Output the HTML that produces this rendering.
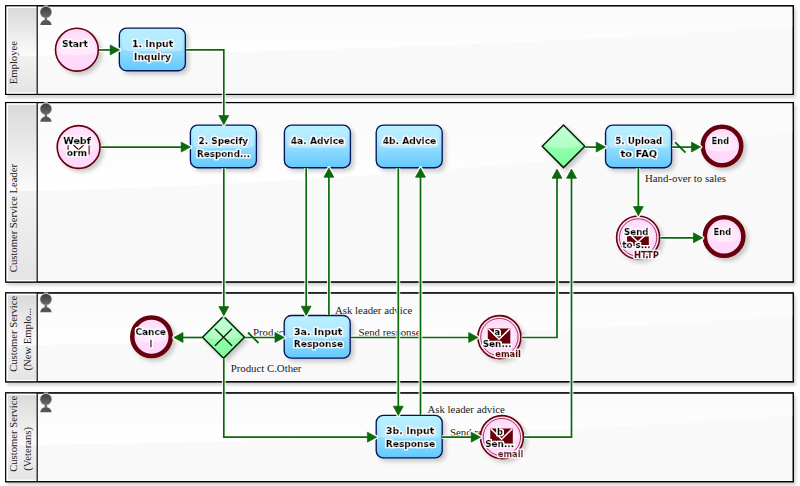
<!DOCTYPE html>
<html><head><meta charset="utf-8"><title>Inquiry workflow</title>
<style>
html,body{margin:0;padding:0;background:#fff;}
body{width:800px;height:486px;overflow:hidden;}
svg{display:block;}
text{white-space:pre;}
.lane{font-family:"Liberation Serif",serif;font-size:10.65px;fill:#222;}
.fl{font-family:"Liberation Serif",serif;font-size:10.8px;fill:#1a1a22;}
.lbl,.sub{font-family:"DejaVu Sans","Liberation Sans",sans-serif;font-weight:bold;font-size:8.3px;fill:#000;stroke:#000;stroke-width:0.35px;filter:url(#halo);}
.sub{fill:#680008;stroke:#680008;}
</style></head><body>
<svg width="800" height="486" viewBox="0 0 800 486">
<defs>
<linearGradient id="hdrA" x1="0" y1="0" x2="0" y2="1"><stop offset="0" stop-color="#dadada"/><stop offset="1" stop-color="#fbfbfb"/></linearGradient>
<linearGradient id="hdrB" x1="0" y1="0" x2="0" y2="1"><stop offset="0" stop-color="#f1f1f1"/><stop offset="1" stop-color="#e4e4e4"/></linearGradient>
<linearGradient id="hdr2" x1="0" y1="0" x2="1" y2="0"><stop offset="0" stop-color="#000" stop-opacity="0.05"/><stop offset="0.3" stop-color="#000" stop-opacity="0"/><stop offset="1" stop-color="#000" stop-opacity="0"/></linearGradient>
<filter id="halo" x="-20%" y="-40%" width="140%" height="180%"><feMorphology in="SourceAlpha" operator="dilate" radius="1"/><feGaussianBlur stdDeviation="0.6"/><feComponentTransfer><feFuncA type="linear" slope="1.6"/></feComponentTransfer><feComposite in2="SourceAlpha" operator="over" result="a"/><feFlood flood-color="#fff"/><feComposite in2="a" operator="in"/><feMerge><feMergeNode/><feMergeNode in="SourceGraphic"/></feMerge></filter>
<filter id="lsh" x="-5%" y="-20%" width="110%" height="140%"><feGaussianBlur in="SourceAlpha" stdDeviation="1.5"/><feOffset dx="2" dy="2.5"/><feComponentTransfer><feFuncA type="linear" slope="0.18"/></feComponentTransfer><feMerge><feMergeNode/><feMergeNode in="SourceGraphic"/></feMerge></filter>
<linearGradient id="gloss" x1="0" y1="0" x2="0" y2="1"><stop offset="0" stop-color="#fff" stop-opacity="0.1"/><stop offset="1" stop-color="#fff" stop-opacity="1"/></linearGradient>
<linearGradient id="taskBg" x1="0" y1="0" x2="0" y2="1"><stop offset="0" stop-color="#b8f2ff"/><stop offset="0.5" stop-color="#96defe"/><stop offset="1" stop-color="#62c8fc"/></linearGradient>
<linearGradient id="tgloss" x1="0" y1="0" x2="0" y2="1"><stop offset="0" stop-color="#fff" stop-opacity="0.05"/><stop offset="1" stop-color="#fff" stop-opacity="0.35"/></linearGradient>
<linearGradient id="egloss" x1="0" y1="0" x2="0" y2="1"><stop offset="0" stop-color="#fff" stop-opacity="0.15"/><stop offset="1" stop-color="#fff" stop-opacity="0.5"/></linearGradient>
<linearGradient id="gwBg" x1="0" y1="0" x2="0" y2="1"><stop offset="0" stop-color="#b0ffc6"/><stop offset="1" stop-color="#78fd98"/></linearGradient>
<linearGradient id="ico" x1="0" y1="0" x2="0" y2="1"><stop offset="0" stop-color="#3c3c3c"/><stop offset="1" stop-color="#6a6a6a"/></linearGradient>
<filter id="sh" x="-20%" y="-20%" width="150%" height="150%"><feGaussianBlur in="SourceAlpha" stdDeviation="2"/><feOffset dx="2.5" dy="2.5"/><feComponentTransfer><feFuncA type="linear" slope="0.2"/></feComponentTransfer><feMerge><feMergeNode/><feMergeNode in="SourceGraphic"/></feMerge></filter>
</defs>
<rect width="800" height="486" fill="#fff"/>
<g><rect x="5.7" y="5.78" width="787.60" height="88.62" fill="#f9f9f9" stroke="#000" stroke-width="1.15" filter="url(#lsh)"/><path d="M37.2 5.78 H793.3 V26.5 Q470 49.6 37.2 55.8 Z" fill="url(#gloss)"/><rect x="5.7" y="5.78" width="31.500000000000004" height="88.62" fill="#fff"/><rect x="8" y="8.08" width="29.200000000000003" height="47.70" fill="url(#hdrA)"/><rect x="8" y="55.78" width="29.200000000000003" height="36.62" fill="url(#hdrB)"/><line x1="38.2" y1="93.10" x2="792.3" y2="93.10" stroke="#fff" stroke-width="1.2"/><rect x="5.7" y="5.78" width="787.60" height="88.62" fill="none" stroke="#000" stroke-width="1.15"/><line x1="37.2" y1="5.78" x2="37.2" y2="94.4" stroke="#000" stroke-width="1.15"/><g transform="translate(40,5.28)"><rect x="3.8" y="0" width="4.4" height="2" fill="#aaa"/><ellipse cx="5.9" cy="6.9" rx="5.8" ry="5.7" fill="url(#ico)" stroke="#bbb" stroke-width="0.5"/><path d="M4.8 12.2 H7 L7.3 15 H4.5 Z" fill="#6a6a6a"/><path d="M0.2 19.7 Q1 14.7 5.9 14.7 Q10.8 14.7 11.6 19.7 Z" fill="#555"/></g><text class="lane" transform="translate(17.3,84.2) rotate(-90)">Employee</text></g>
<g><rect x="5.7" y="102.55" width="787.60" height="179.45" fill="#f9f9f9" stroke="#000" stroke-width="1.15" filter="url(#lsh)"/><path d="M37.2 102.55 H793.3 V131.8 Q470 178.5 37.2 191.1 Z" fill="url(#gloss)"/><rect x="5.7" y="102.55" width="31.500000000000004" height="179.45" fill="#fff"/><rect x="8" y="104.85" width="29.200000000000003" height="86.20" fill="url(#hdrA)"/><rect x="8" y="191.05" width="29.200000000000003" height="88.95" fill="url(#hdrB)"/><line x1="38.2" y1="280.70" x2="792.3" y2="280.70" stroke="#fff" stroke-width="1.2"/><rect x="5.7" y="102.55" width="787.60" height="179.45" fill="none" stroke="#000" stroke-width="1.15"/><line x1="37.2" y1="102.55" x2="37.2" y2="282.0" stroke="#000" stroke-width="1.15"/><g transform="translate(40,102.05)"><rect x="3.8" y="0" width="4.4" height="2" fill="#aaa"/><ellipse cx="5.9" cy="6.9" rx="5.8" ry="5.7" fill="url(#ico)" stroke="#bbb" stroke-width="0.5"/><path d="M4.8 12.2 H7 L7.3 15 H4.5 Z" fill="#6a6a6a"/><path d="M0.2 19.7 Q1 14.7 5.9 14.7 Q10.8 14.7 11.6 19.7 Z" fill="#555"/></g><text class="lane" transform="translate(17.3,272.2) rotate(-90)">Customer Service Leader</text></g>
<g><rect x="5.7" y="292.95" width="787.60" height="88.85" fill="#f9f9f9" stroke="#000" stroke-width="1.15" filter="url(#lsh)"/><path d="M37.2 292.95 H793.3 V315.6 Q470 338.7 37.2 344.9 Z" fill="url(#gloss)"/><rect x="5.7" y="292.95" width="31.500000000000004" height="88.85" fill="#fff"/><rect x="8" y="295.25" width="29.200000000000003" height="49.70" fill="url(#hdrA)"/><rect x="8" y="344.95" width="29.200000000000003" height="34.85" fill="url(#hdrB)"/><line x1="38.2" y1="380.50" x2="792.3" y2="380.50" stroke="#fff" stroke-width="1.2"/><rect x="5.7" y="292.95" width="787.60" height="88.85" fill="none" stroke="#000" stroke-width="1.15"/><line x1="37.2" y1="292.95" x2="37.2" y2="381.8" stroke="#000" stroke-width="1.15"/><g transform="translate(40,292.45)"><rect x="3.8" y="0" width="4.4" height="2" fill="#aaa"/><ellipse cx="5.9" cy="6.9" rx="5.8" ry="5.7" fill="url(#ico)" stroke="#bbb" stroke-width="0.5"/><path d="M4.8 12.2 H7 L7.3 15 H4.5 Z" fill="#6a6a6a"/><path d="M0.2 19.7 Q1 14.7 5.9 14.7 Q10.8 14.7 11.6 19.7 Z" fill="#555"/></g><text class="lane" transform="translate(17.3,371.8) rotate(-90)">Customer Service</text><text class="lane" transform="translate(31.1,370.5) rotate(-90)">(New Emplo...</text></g>
<g><rect x="5.7" y="392.95" width="787.60" height="88.72" fill="#f9f9f9" stroke="#000" stroke-width="1.15" filter="url(#lsh)"/><path d="M37.2 392.95 H793.3 V415.7 Q470 438.7 37.2 444.9 Z" fill="url(#gloss)"/><rect x="5.7" y="392.95" width="31.500000000000004" height="88.72" fill="#fff"/><rect x="8" y="395.25" width="29.200000000000003" height="49.70" fill="url(#hdrA)"/><rect x="8" y="444.95" width="29.200000000000003" height="34.72" fill="url(#hdrB)"/><line x1="38.2" y1="480.37" x2="792.3" y2="480.37" stroke="#fff" stroke-width="1.2"/><rect x="5.7" y="392.95" width="787.60" height="88.72" fill="none" stroke="#000" stroke-width="1.15"/><line x1="37.2" y1="392.95" x2="37.2" y2="481.67" stroke="#000" stroke-width="1.15"/><g transform="translate(40,392.45)"><rect x="3.8" y="0" width="4.4" height="2" fill="#aaa"/><ellipse cx="5.9" cy="6.9" rx="5.8" ry="5.7" fill="url(#ico)" stroke="#bbb" stroke-width="0.5"/><path d="M4.8 12.2 H7 L7.3 15 H4.5 Z" fill="#6a6a6a"/><path d="M0.2 19.7 Q1 14.7 5.9 14.7 Q10.8 14.7 11.6 19.7 Z" fill="#555"/></g><text class="lane" transform="translate(17.3,471.8) rotate(-90)">Customer Service</text><text class="lane" transform="translate(31.1,470.8) rotate(-90)">(Veterans)</text></g>
<text class="fl" x="645" y="182">Hand-over to sales</text>
<text class="fl" x="335.0" y="313.6">Ask leader advice</text>
<text class="fl" x="253" y="335.8">Product</text>
<text class="fl" x="358.4" y="335.9">Send response</text>
<text class="fl" x="230.7" y="372.3">Product C.Other</text>
<text class="fl" x="427.5" y="413.3">Ask leader advice</text>
<text class="fl" x="450" y="435.6">Send response</text>
<g><circle cx="76.9" cy="49.7" r="21.4" fill="#ffd9fb" stroke="#680008" stroke-width="1.6" filter="url(#sh)"/><path d="M58.10 50.7 A18.80 18.80 0 0 1 95.70 50.7 Q94.20 55.2 76.9 55.2 Q59.60 55.2 58.10 50.7 Z" fill="url(#egloss)"/></g>
<text class="lbl" x="61.9" y="46.9" textLength="26" lengthAdjust="spacingAndGlyphs">Start</text>
<g><rect x="119.35" y="28.15" width="66.0" height="42.6" rx="7.2" ry="7.2" fill="url(#taskBg)" stroke="#06145a" stroke-width="1.35" filter="url(#sh)"/><path d="M122.35 48.172 V37.15 Q122.35 31.15 128.35 31.15 H176.35 Q182.35 31.15 182.35 37.15 V48.172 Q181.35 51.172 173.35 51.172 H131.35 Q123.35 51.172 122.35 48.172 Z" fill="url(#tgloss)"/></g>
<text class="lbl" x="131.9" y="46.7" textLength="41.4" lengthAdjust="spacingAndGlyphs">1. Input</text>
<text class="lbl" x="134.1" y="59.6" textLength="37" lengthAdjust="spacingAndGlyphs">Inquiry</text>
<g><circle cx="78.6" cy="147.0" r="21.4" fill="#ffd9fb" stroke="#680008" stroke-width="1.6" filter="url(#sh)"/><path d="M59.80 148.0 A18.80 18.80 0 0 1 97.40 148.0 Q95.90 152.5 78.6 152.5 Q61.30 152.5 59.80 148.0 Z" fill="url(#egloss)"/></g>
<g><rect x="68.1" y="145" width="21" height="9.6" fill="#fff"/><path d="M68.1 145 V154.6 M89.1 145 V154.6" fill="none" stroke="#680008" stroke-width="1.1"/><path d="M73.39999999999999 145 L78.6 149.8 L83.8 145" fill="none" stroke="#680008" stroke-width="1.2"/></g>
<text class="lbl" x="63.2" y="143.6" textLength="27.7" lengthAdjust="spacingAndGlyphs">Webf</text>
<text class="lbl" x="66.7" y="156.4" textLength="20.4" lengthAdjust="spacingAndGlyphs">orm</text>
<g><rect x="190.4" y="125.1" width="66.0" height="42.6" rx="7.2" ry="7.2" fill="url(#taskBg)" stroke="#06145a" stroke-width="1.35" filter="url(#sh)"/><path d="M193.4 145.12199999999999 V134.1 Q193.4 128.1 199.4 128.1 H247.39999999999998 Q253.39999999999998 128.1 253.39999999999998 134.1 V145.12199999999999 Q252.39999999999998 148.12199999999999 244.39999999999998 148.12199999999999 H202.4 Q194.4 148.12199999999999 193.4 145.12199999999999 Z" fill="url(#tgloss)"/></g>
<text class="lbl" x="198.6" y="143.7" textLength="49.5" lengthAdjust="spacingAndGlyphs">2. Specify</text>
<text class="lbl" x="197" y="156.6" textLength="53" lengthAdjust="spacingAndGlyphs">Respond...</text>
<g><rect x="284.4" y="125.1" width="66.0" height="42.6" rx="7.2" ry="7.2" fill="url(#taskBg)" stroke="#06145a" stroke-width="1.35" filter="url(#sh)"/><path d="M287.4 145.12199999999999 V134.1 Q287.4 128.1 293.4 128.1 H341.4 Q347.4 128.1 347.4 134.1 V145.12199999999999 Q346.4 148.12199999999999 338.4 148.12199999999999 H296.4 Q288.4 148.12199999999999 287.4 145.12199999999999 Z" fill="url(#tgloss)"/></g>
<text class="lbl" x="290.7" y="143.7" textLength="53.6" lengthAdjust="spacingAndGlyphs">4a. Advice</text>
<g><rect x="376.2" y="125.1" width="66.0" height="42.6" rx="7.2" ry="7.2" fill="url(#taskBg)" stroke="#06145a" stroke-width="1.35" filter="url(#sh)"/><path d="M379.2 145.12199999999999 V134.1 Q379.2 128.1 385.2 128.1 H433.2 Q439.2 128.1 439.2 134.1 V145.12199999999999 Q438.2 148.12199999999999 430.2 148.12199999999999 H388.2 Q380.2 148.12199999999999 379.2 145.12199999999999 Z" fill="url(#tgloss)"/></g>
<text class="lbl" x="382.7" y="143.7" textLength="53.6" lengthAdjust="spacingAndGlyphs">4b. Advice</text>
<g><path d="M563.5 125.00000000000001 L584.8 146.3 L563.5 167.60000000000002 L542.2 146.3 Z" fill="url(#gwBg)" stroke="#062806" stroke-width="1.6" stroke-linejoin="round" filter="url(#sh)"/><path d="M563.5 127.50000000000001 L581.8 145.8 Q563.5 151.3 545.2 145.8 Z" fill="#fff" opacity="0.28"/></g>
<g><rect x="605.55" y="125.1" width="66.0" height="42.6" rx="7.2" ry="7.2" fill="url(#taskBg)" stroke="#06145a" stroke-width="1.35" filter="url(#sh)"/><path d="M608.55 145.12199999999999 V134.1 Q608.55 128.1 614.55 128.1 H662.55 Q668.55 128.1 668.55 134.1 V145.12199999999999 Q667.55 148.12199999999999 659.55 148.12199999999999 H617.55 Q609.55 148.12199999999999 608.55 145.12199999999999 Z" fill="url(#tgloss)"/></g>
<text class="lbl" x="615.2" y="143.7" textLength="47" lengthAdjust="spacingAndGlyphs">5. Upload</text>
<text class="lbl" x="620.6" y="156.6" textLength="36.6" lengthAdjust="spacingAndGlyphs">to FAQ</text>
<g><circle cx="722.0" cy="146.0" r="19.25" fill="#ffd9fb" stroke="#680008" stroke-width="4.5" filter="url(#sh)"/><path d="M706.80 147.0 A15.20 15.20 0 0 1 737.20 147.0 Q735.70 151.5 722.0 151.5 Q708.30 151.5 706.80 147.0 Z" fill="url(#egloss)"/></g>
<text class="lbl" x="711.6" y="143.75" textLength="17.5" lengthAdjust="spacingAndGlyphs">End</text>
<g><circle cx="638.1" cy="237.5" r="21.5" fill="#ffd9fb" stroke="#680008" stroke-width="1.6" filter="url(#sh)"/><circle cx="638.1" cy="237.5" r="18.7" fill="none" stroke="#8a3048" stroke-width="0.9"/><path d="M621.90 238.5 A16.20 16.20 0 0 1 654.30 238.5 Q652.80 243.0 638.1 243.0 Q623.40 243.0 621.90 238.5 Z" fill="url(#egloss)"/></g>
<g><rect x="627.1" y="232" width="21.7" height="14" fill="#680008"/><path d="M627.6 232.3 L637.95 242.08 L648.3000000000001 232.3" fill="none" stroke="#fff" stroke-width="1.5"/></g>
<text class="lbl" x="624.1" y="235.1" textLength="24.4" lengthAdjust="spacingAndGlyphs">Send</text>
<text class="lbl" x="622.25" y="247.5" textLength="28.4" lengthAdjust="spacingAndGlyphs">to s...</text>
<text class="sub" x="634" y="258.1" textLength="25" lengthAdjust="spacingAndGlyphs">HTTP</text>
<g><circle cx="724.1" cy="236.5" r="19.25" fill="#ffd9fb" stroke="#680008" stroke-width="4.5" filter="url(#sh)"/><path d="M708.90 237.5 A15.20 15.20 0 0 1 739.30 237.5 Q737.80 242.0 724.1 242.0 Q710.40 242.0 708.90 237.5 Z" fill="url(#egloss)"/></g>
<text class="lbl" x="713.6" y="234.8" textLength="17.6" lengthAdjust="spacingAndGlyphs">End</text>
<g><circle cx="151.5" cy="336.7" r="19.25" fill="#ffd9fb" stroke="#680008" stroke-width="4.5" filter="url(#sh)"/><path d="M136.30 337.7 A15.20 15.20 0 0 1 166.70 337.7 Q165.20 342.2 151.5 342.2 Q137.80 342.2 136.30 337.7 Z" fill="url(#egloss)"/></g>
<text class="lbl" x="135.4" y="334.5" textLength="30.5" lengthAdjust="spacingAndGlyphs">Cance</text>
<text class="lbl" x="149.6" y="347.3">l</text>
<g><path d="M223.5 316.2 L244.5 337.2 L223.5 358.2 L202.5 337.2 Z" fill="url(#gwBg)" stroke="#062806" stroke-width="1.6" stroke-linejoin="round" filter="url(#sh)"/><path d="M223.5 318.7 L241.5 336.7 Q223.5 342.2 205.5 336.7 Z" fill="#fff" opacity="0.28"/></g>
<g><rect x="284.2" y="315.5" width="66.0" height="42.6" rx="7.2" ry="7.2" fill="url(#taskBg)" stroke="#06145a" stroke-width="1.35" filter="url(#sh)"/><path d="M287.2 335.522 V324.5 Q287.2 318.5 293.2 318.5 H341.2 Q347.2 318.5 347.2 324.5 V335.522 Q346.2 338.522 338.2 338.522 H296.2 Q288.2 338.522 287.2 335.522 Z" fill="url(#tgloss)"/></g>
<text class="lbl" x="294.0" y="334.6" textLength="48.3" lengthAdjust="spacingAndGlyphs">3a. Input</text>
<text class="lbl" x="293.7" y="347.1" textLength="49.5" lengthAdjust="spacingAndGlyphs">Response</text>
<g><circle cx="499.4" cy="337.1" r="21.5" fill="#ffd9fb" stroke="#680008" stroke-width="1.6" filter="url(#sh)"/><circle cx="499.4" cy="337.1" r="18.7" fill="none" stroke="#8a3048" stroke-width="0.9"/><path d="M483.20 338.1 A16.20 16.20 0 0 1 515.60 338.1 Q514.10 342.6 499.4 342.6 Q484.70 342.6 483.20 338.1 Z" fill="url(#egloss)"/></g>
<g><rect x="487.8" y="328.5" width="22.5" height="15" fill="#680008"/><path d="M488.3 328.8 L499.05 339.3 L509.8 328.8" fill="none" stroke="#fff" stroke-width="1.5"/></g>
<text class="lbl" x="494.4" y="335.2">a</text>
<text class="lbl" x="482.75" y="347.0" textLength="28.75" lengthAdjust="spacingAndGlyphs">Sen...</text>
<text class="sub" x="495.25" y="357.0" textLength="25.6" lengthAdjust="spacingAndGlyphs">email</text>
<g><rect x="376.2" y="415.3" width="66.0" height="42.6" rx="7.2" ry="7.2" fill="url(#taskBg)" stroke="#06145a" stroke-width="1.35" filter="url(#sh)"/><path d="M379.2 435.322 V424.3 Q379.2 418.3 385.2 418.3 H433.2 Q439.2 418.3 439.2 424.3 V435.322 Q438.2 438.322 430.2 438.322 H388.2 Q380.2 438.322 379.2 435.322 Z" fill="url(#tgloss)"/></g>
<text class="lbl" x="386.0" y="434.4" textLength="48.3" lengthAdjust="spacingAndGlyphs">3b. Input</text>
<text class="lbl" x="385.7" y="446.9" textLength="49.5" lengthAdjust="spacingAndGlyphs">Response</text>
<g><circle cx="501.9" cy="437.1" r="21.5" fill="#ffd9fb" stroke="#680008" stroke-width="1.6" filter="url(#sh)"/><circle cx="501.9" cy="437.1" r="18.7" fill="none" stroke="#8a3048" stroke-width="0.9"/><path d="M485.70 438.1 A16.20 16.20 0 0 1 518.10 438.1 Q516.60 442.6 501.9 442.6 Q487.20 442.6 485.70 438.1 Z" fill="url(#egloss)"/></g>
<g><rect x="490.3" y="428.5" width="22.5" height="15" fill="#680008"/><path d="M490.8 428.8 L501.55 439.3 L512.3 428.8" fill="none" stroke="#fff" stroke-width="1.5"/></g>
<text class="lbl" x="496.9" y="435.2">b</text>
<text class="lbl" x="485.25" y="447.0" textLength="28.75" lengthAdjust="spacingAndGlyphs">Sen...</text>
<text class="sub" x="497.75" y="457.0" textLength="25.6" lengthAdjust="spacingAndGlyphs">email</text>
<g><path d="M99 49.95 L115.0 49.95" fill="none" stroke="#fff" stroke-opacity="0.9" stroke-width="3.8"/><path d="M119.45 49.95 L110.20 54.95 L110.20 44.95 Z" fill="#fff" stroke="#fff" stroke-opacity="0.9" stroke-width="3.6" stroke-linejoin="round"/><path d="M99 49.95 L115.0 49.95" fill="none" stroke="#0b690b" stroke-width="1.7"/><path d="M119.45 49.95 L110.20 54.95 L110.20 44.95 Z" fill="#0b690b" stroke="#0b690b" stroke-width="0.7" stroke-linejoin="round"/></g>
<g><path d="M186 49.95 L223.8 49.95 L223.8 120.3" fill="none" stroke="#fff" stroke-opacity="0.9" stroke-width="3.8"/><path d="M223.80 124.75 L218.80 115.50 L228.80 115.50 Z" fill="#fff" stroke="#fff" stroke-opacity="0.9" stroke-width="3.6" stroke-linejoin="round"/><path d="M186 49.95 L223.8 49.95 L223.8 120.3" fill="none" stroke="#0b690b" stroke-width="1.7"/><path d="M223.80 124.75 L218.80 115.50 L228.80 115.50 Z" fill="#0b690b" stroke="#0b690b" stroke-width="0.7" stroke-linejoin="round"/></g>
<g><path d="M101 147.1 L186.0 147.1" fill="none" stroke="#fff" stroke-opacity="0.9" stroke-width="3.8"/><path d="M190.45 147.10 L181.20 152.10 L181.20 142.10 Z" fill="#fff" stroke="#fff" stroke-opacity="0.9" stroke-width="3.6" stroke-linejoin="round"/><path d="M101 147.1 L186.0 147.1" fill="none" stroke="#0b690b" stroke-width="1.7"/><path d="M190.45 147.10 L181.20 152.10 L181.20 142.10 Z" fill="#0b690b" stroke="#0b690b" stroke-width="0.7" stroke-linejoin="round"/></g>
<g><path d="M223.8 168 L223.8 311.4" fill="none" stroke="#fff" stroke-opacity="0.9" stroke-width="3.8"/><path d="M223.80 315.85 L218.80 306.60 L228.80 306.60 Z" fill="#fff" stroke="#fff" stroke-opacity="0.9" stroke-width="3.6" stroke-linejoin="round"/><path d="M223.8 168 L223.8 311.4" fill="none" stroke="#0b690b" stroke-width="1.7"/><path d="M223.80 315.85 L218.80 306.60 L228.80 306.60 Z" fill="#0b690b" stroke="#0b690b" stroke-width="0.7" stroke-linejoin="round"/></g>
<g><path d="M306.2 168 L306.2 311.0" fill="none" stroke="#fff" stroke-opacity="0.9" stroke-width="3.8"/><path d="M306.20 315.45 L301.20 306.20 L311.20 306.20 Z" fill="#fff" stroke="#fff" stroke-opacity="0.9" stroke-width="3.6" stroke-linejoin="round"/><path d="M306.2 168 L306.2 311.0" fill="none" stroke="#0b690b" stroke-width="1.7"/><path d="M306.20 315.45 L301.20 306.20 L311.20 306.20 Z" fill="#0b690b" stroke="#0b690b" stroke-width="0.7" stroke-linejoin="round"/></g>
<g><path d="M328.9 315 L328.9 172.5" fill="none" stroke="#fff" stroke-opacity="0.9" stroke-width="3.8"/><path d="M328.90 168.05 L333.90 177.30 L323.90 177.30 Z" fill="#fff" stroke="#fff" stroke-opacity="0.9" stroke-width="3.6" stroke-linejoin="round"/><path d="M328.9 315 L328.9 172.5" fill="none" stroke="#0b690b" stroke-width="1.7"/><path d="M328.90 168.05 L333.90 177.30 L323.90 177.30 Z" fill="#0b690b" stroke="#0b690b" stroke-width="0.7" stroke-linejoin="round"/></g>
<g><path d="M202 337.5 L178.2 337.5" fill="none" stroke="#fff" stroke-opacity="0.9" stroke-width="3.8"/><path d="M173.75 337.50 L183.00 332.50 L183.00 342.50 Z" fill="#fff" stroke="#fff" stroke-opacity="0.9" stroke-width="3.6" stroke-linejoin="round"/><path d="M202 337.5 L178.2 337.5" fill="none" stroke="#0b690b" stroke-width="1.7"/><path d="M173.75 337.50 L183.00 332.50 L183.00 342.50 Z" fill="#0b690b" stroke="#0b690b" stroke-width="0.7" stroke-linejoin="round"/></g>
<g><path d="M245 337.5 L279.8 337.5" fill="none" stroke="#fff" stroke-opacity="0.9" stroke-width="3.8"/><path d="M284.25 337.50 L275.00 342.50 L275.00 332.50 Z" fill="#fff" stroke="#fff" stroke-opacity="0.9" stroke-width="3.6" stroke-linejoin="round"/><path d="M248 332.5 L258.5 343.0" stroke="#fff" stroke-opacity="0.9" stroke-width="4.4" fill="none" stroke-linecap="round"/><path d="M245 337.5 L279.8 337.5" fill="none" stroke="#0b690b" stroke-width="1.7"/><path d="M284.25 337.50 L275.00 342.50 L275.00 332.50 Z" fill="#0b690b" stroke="#0b690b" stroke-width="0.7" stroke-linejoin="round"/><path d="M248 332.5 L258.5 343.0" stroke="#0b690b" stroke-width="1.9" fill="none"/></g>
<g><path d="M223.8 358 L223.8 437.15 L372.2 437.15" fill="none" stroke="#fff" stroke-opacity="0.9" stroke-width="3.8"/><path d="M376.65 437.15 L367.40 442.15 L367.40 432.15 Z" fill="#fff" stroke="#fff" stroke-opacity="0.9" stroke-width="3.6" stroke-linejoin="round"/><path d="M223.8 358 L223.8 437.15 L372.2 437.15" fill="none" stroke="#0b690b" stroke-width="1.7"/><path d="M376.65 437.15 L367.40 442.15 L367.40 432.15 Z" fill="#0b690b" stroke="#0b690b" stroke-width="0.7" stroke-linejoin="round"/></g>
<g><path d="M351 337.5 L473.5 337.5" fill="none" stroke="#fff" stroke-opacity="0.9" stroke-width="3.8"/><path d="M477.95 337.50 L468.70 342.50 L468.70 332.50 Z" fill="#fff" stroke="#fff" stroke-opacity="0.9" stroke-width="3.6" stroke-linejoin="round"/><path d="M351 337.5 L473.5 337.5" fill="none" stroke="#0b690b" stroke-width="1.7"/><path d="M477.95 337.50 L468.70 342.50 L468.70 332.50 Z" fill="#0b690b" stroke="#0b690b" stroke-width="0.7" stroke-linejoin="round"/></g>
<g><path d="M398.3 168 L398.3 411.0" fill="none" stroke="#fff" stroke-opacity="0.9" stroke-width="3.8"/><path d="M398.30 415.45 L393.30 406.20 L403.30 406.20 Z" fill="#fff" stroke="#fff" stroke-opacity="0.9" stroke-width="3.6" stroke-linejoin="round"/><path d="M398.3 168 L398.3 411.0" fill="none" stroke="#0b690b" stroke-width="1.7"/><path d="M398.30 415.45 L393.30 406.20 L403.30 406.20 Z" fill="#0b690b" stroke="#0b690b" stroke-width="0.7" stroke-linejoin="round"/></g>
<g><path d="M420.5 415 L420.5 172.5" fill="none" stroke="#fff" stroke-opacity="0.9" stroke-width="3.8"/><path d="M420.50 168.05 L425.50 177.30 L415.50 177.30 Z" fill="#fff" stroke="#fff" stroke-opacity="0.9" stroke-width="3.6" stroke-linejoin="round"/><path d="M420.5 415 L420.5 172.5" fill="none" stroke="#0b690b" stroke-width="1.7"/><path d="M420.50 168.05 L425.50 177.30 L415.50 177.30 Z" fill="#0b690b" stroke="#0b690b" stroke-width="0.7" stroke-linejoin="round"/></g>
<g><path d="M521.5 337.5 L557.0 337.5 L557.0 173.5" fill="none" stroke="#fff" stroke-opacity="0.9" stroke-width="3.8"/><path d="M557.00 169.05 L562.00 178.30 L552.00 178.30 Z" fill="#fff" stroke="#fff" stroke-opacity="0.9" stroke-width="3.6" stroke-linejoin="round"/><path d="M521.5 337.5 L557.0 337.5 L557.0 173.5" fill="none" stroke="#0b690b" stroke-width="1.7"/><path d="M557.00 169.05 L562.00 178.30 L552.00 178.30 Z" fill="#0b690b" stroke="#0b690b" stroke-width="0.7" stroke-linejoin="round"/></g>
<g><path d="M524 437.15 L571.5 437.15 L571.5 173.5" fill="none" stroke="#fff" stroke-opacity="0.9" stroke-width="3.8"/><path d="M571.50 169.05 L576.50 178.30 L566.50 178.30 Z" fill="#fff" stroke="#fff" stroke-opacity="0.9" stroke-width="3.6" stroke-linejoin="round"/><path d="M524 437.15 L571.5 437.15 L571.5 173.5" fill="none" stroke="#0b690b" stroke-width="1.7"/><path d="M571.50 169.05 L576.50 178.30 L566.50 178.30 Z" fill="#0b690b" stroke="#0b690b" stroke-width="0.7" stroke-linejoin="round"/></g>
<g><path d="M442 437.15 L476.0 437.15" fill="none" stroke="#fff" stroke-opacity="0.9" stroke-width="3.8"/><path d="M480.45 437.15 L471.20 442.15 L471.20 432.15 Z" fill="#fff" stroke="#fff" stroke-opacity="0.9" stroke-width="3.6" stroke-linejoin="round"/><path d="M442 437.15 L476.0 437.15" fill="none" stroke="#0b690b" stroke-width="1.7"/><path d="M480.45 437.15 L471.20 442.15 L471.20 432.15 Z" fill="#0b690b" stroke="#0b690b" stroke-width="0.7" stroke-linejoin="round"/></g>
<g><path d="M585 147.1 L601.0 147.1" fill="none" stroke="#fff" stroke-opacity="0.9" stroke-width="3.8"/><path d="M605.45 147.10 L596.20 152.10 L596.20 142.10 Z" fill="#fff" stroke="#fff" stroke-opacity="0.9" stroke-width="3.6" stroke-linejoin="round"/><path d="M585 147.1 L601.0 147.1" fill="none" stroke="#0b690b" stroke-width="1.7"/><path d="M605.45 147.10 L596.20 152.10 L596.20 142.10 Z" fill="#0b690b" stroke="#0b690b" stroke-width="0.7" stroke-linejoin="round"/></g>
<g><path d="M672 147.1 L696.2 147.1" fill="none" stroke="#fff" stroke-opacity="0.9" stroke-width="3.8"/><path d="M700.65 147.10 L691.40 152.10 L691.40 142.10 Z" fill="#fff" stroke="#fff" stroke-opacity="0.9" stroke-width="3.6" stroke-linejoin="round"/><path d="M675 142.1 L685.5 152.6" stroke="#fff" stroke-opacity="0.9" stroke-width="4.4" fill="none" stroke-linecap="round"/><path d="M672 147.1 L696.2 147.1" fill="none" stroke="#0b690b" stroke-width="1.7"/><path d="M700.65 147.10 L691.40 152.10 L691.40 142.10 Z" fill="#0b690b" stroke="#0b690b" stroke-width="0.7" stroke-linejoin="round"/><path d="M675 142.1 L685.5 152.6" stroke="#0b690b" stroke-width="1.9" fill="none"/></g>
<g><path d="M638.35 168 L638.35 211.3" fill="none" stroke="#fff" stroke-opacity="0.9" stroke-width="3.8"/><path d="M638.35 215.75 L633.35 206.50 L643.35 206.50 Z" fill="#fff" stroke="#fff" stroke-opacity="0.9" stroke-width="3.6" stroke-linejoin="round"/><path d="M638.35 168 L638.35 211.3" fill="none" stroke="#0b690b" stroke-width="1.7"/><path d="M638.35 215.75 L633.35 206.50 L643.35 206.50 Z" fill="#0b690b" stroke="#0b690b" stroke-width="0.7" stroke-linejoin="round"/></g>
<g><path d="M660.3 237.85 L698.2 237.85" fill="none" stroke="#fff" stroke-opacity="0.9" stroke-width="3.8"/><path d="M702.65 237.85 L693.40 242.85 L693.40 232.85 Z" fill="#fff" stroke="#fff" stroke-opacity="0.9" stroke-width="3.6" stroke-linejoin="round"/><path d="M660.3 237.85 L698.2 237.85" fill="none" stroke="#0b690b" stroke-width="1.7"/><path d="M702.65 237.85 L693.40 242.85 L693.40 232.85 Z" fill="#0b690b" stroke="#0b690b" stroke-width="0.7" stroke-linejoin="round"/></g>
<path d="M215 328.7 L232 345.7 M232 328.7 L215 345.7" stroke="#0c240c" stroke-width="1.4" fill="none"/>
</svg>
</body></html>
